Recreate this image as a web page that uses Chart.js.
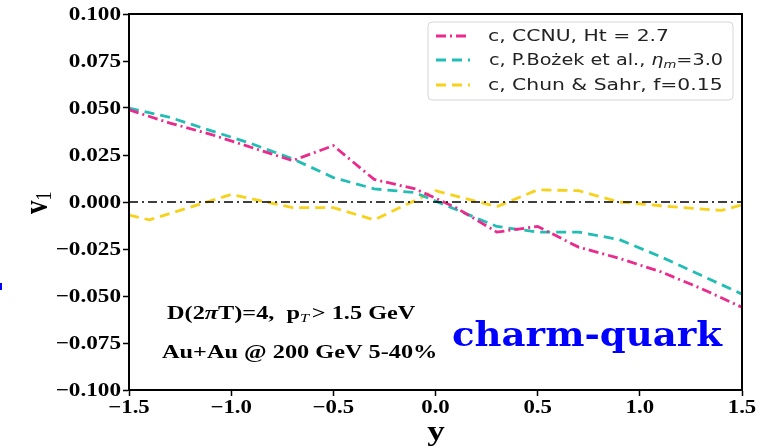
<!DOCTYPE html>
<html>
<head>
<meta charset="utf-8">
<script src="https://cdn.jsdelivr.net/npm/chart.js@4.4.1/dist/chart.umd.min.js"></script>
<style>
  html, body { margin: 0; padding: 0; background: #ffffff; }
  #wrap { width: 763px; height: 448px; position: relative; }
</style>
</head>
<body>
<div id="wrap"><canvas id="c" width="763" height="448"></canvas></div>
<script>
// Rapidity grid shared by the CCNU and Bozek curves
const rapidity = [-1.5, -1.3, -1.1, -0.9, -0.7, -0.5, -0.3, -0.1, 0.1, 0.3, 0.5, 0.7, 0.9, 1.1, 1.3, 1.5];
// v1 of charm quarks, CCNU model (Ht = 2.7)
const v1CCNU = [0.049, 0.042, 0.036, 0.029, 0.022, 0.030, 0.012, 0.007, -0.003, -0.016, -0.013, -0.024, -0.030, -0.037, -0.046, -0.056];
// v1 of charm quarks, P. Bozek et al. (eta_m = 3.0)
const v1Bozek = [0.050, 0.045, 0.038, 0.031, 0.023, 0.013, 0.007, 0.005, -0.004, -0.013, -0.016, -0.016, -0.020, -0.029, -0.039, -0.049];
// Chun & Sahr curve has its own rapidity points
const rapidityChun = [-1.5, -1.4, -1.0, -0.7, -0.5, -0.3, 0.0, 0.3, 0.5, 0.7, 0.9, 1.1, 1.4, 1.5];
const v1Chun = [-0.007, -0.0095, 0.004, -0.003, -0.003, -0.0095, 0.006, -0.0025, 0.0065, 0.006, 0.0, -0.002, -0.0045, -0.0015];
// Axis ticks
const yTicks = [-0.100, -0.075, -0.050, -0.025, 0.000, 0.025, 0.050, 0.075, 0.100];
const xTicks = [-1.5, -1.0, -0.5, 0.0, 0.5, 1.0, 1.5];

const pink = '#ea2a8c', teal = '#22bdb5', gold = '#f6d21a';
const dashDot = [10, 4, 2, 4];
const dashed = [10, 6];

const pts = (xs, ys) => xs.map((x, i) => ({ x: x, y: ys[i] }));
const minus = s => s.replace('-', '\u2212');

const serif = '"Liberation Serif", "DejaVu Serif", serif';
const sansFam = '"DejaVu Sans", sans-serif';

// Draw a run of text pieces [text, font, dy, gap] widened by factor sx, anchored at (x, y)
function drawRun(ctx, pieces, x, y, sx, align) {
  let total = 0;
  pieces.forEach(p => { ctx.font = p[1]; total += ctx.measureText(p[0]).width + (p[3] || 0); });
  ctx.save();
  ctx.translate(x, y);
  ctx.scale(sx, 1);
  let cx = 0;
  if (align === 'right') cx = -total;
  else if (align === 'center') cx = -total / 2;
  ctx.textAlign = 'left';
  pieces.forEach(p => {
    ctx.font = p[1];
    ctx.fillText(p[0], cx, p[2] || 0);
    cx += ctx.measureText(p[0]).width + (p[3] || 0);
  });
  ctx.restore();
}

const overlay = {
  id: 'overlay',
  afterDraw(chart) {
    const ctx = chart.ctx;
    const a = chart.chartArea;
    const xs = chart.scales.x, ys = chart.scales.y;
    ctx.save();
    // plot frame
    ctx.strokeStyle = '#000';
    ctx.lineWidth = 2;
    ctx.setLineDash([]);
    ctx.strokeRect(a.left, a.top, a.right - a.left, a.bottom - a.top);

    // tick labels
    ctx.fillStyle = '#000';
    ctx.textBaseline = 'middle';
    const tickFont = 'bold 19px ' + serif;
    yTicks.forEach(v => {
      drawRun(ctx, [[minus(v.toFixed(3)), tickFont]], 121, ys.getPixelForValue(v) + 1, 1.22, 'right');
    });
    xTicks.forEach(v => {
      drawRun(ctx, [[minus(v.toFixed(1)), tickFont]], xs.getPixelForValue(v), 408, 1.2, 'center');
    });

    // legend box
    const lx = 428, ly = 22, lw = 305, lh = 78;
    ctx.fillStyle = 'rgba(255,255,255,0.9)';
    ctx.strokeStyle = '#d6d6d6';
    ctx.lineWidth = 1;
    ctx.beginPath();
    ctx.roundRect(lx, ly, lw, lh, 4);
    ctx.fill();
    ctx.stroke();
    const entries = [
      { color: pink, dash: dashDot, y: 36 },
      { color: teal, dash: dashed, y: 60 },
      { color: gold, dash: dashed, y: 85 }
    ];
    entries.forEach(e => {
      ctx.strokeStyle = e.color;
      ctx.lineWidth = 2.8;
      ctx.setLineDash(e.dash);
      ctx.beginPath();
      ctx.moveTo(436, e.y);
      ctx.lineTo(470, e.y);
      ctx.stroke();
    });
    ctx.setLineDash([]);
    ctx.fillStyle = '#222';
    ctx.textBaseline = 'middle';
    const sans = '16px ' + sansFam;
    const sx = 1.27;
    drawRun(ctx, [['c, CCNU, Ht = 2.7', sans]], 488, 37, sx);
    drawRun(ctx, [
      ['c, P.Bo\u017cek et al., ', sans],
      ['\u03b7', 'italic 16px ' + sansFam],
      ['m', 'italic 11px ' + sansFam, 4],
      ['=3.0', sans]
    ], 489, 61, 1.2);
    drawRun(ctx, [['c, Chun & Sahr, f=0.15', sans]], 488, 86, sx);

    // annotation text
    ctx.fillStyle = '#000';
    ctx.textBaseline = 'alphabetic';
    const b18 = 'bold 18px ' + serif;
    drawRun(ctx, [
      ['D(2', b18],
      ['\u03c0', 'bold italic 18px ' + serif],
      ['T)=4,  p', b18],
      ['T', 'italic 12px ' + serif, 3, 2],
      ['> 1.5 GeV', b18]
    ], 167, 319, 1.35);
    drawRun(ctx, [['Au+Au @ 200 GeV 5-40%', b18]], 162, 358, 1.35);

    // big label
    ctx.fillStyle = '#0000ff';
    ctx.font = 'bold 33px "DejaVu Serif", serif';
    const big = 'charm-quark';
    const bw = ctx.measureText(big).width;
    ctx.save();
    ctx.translate(452, 346);
    ctx.scale(270 / bw, 1);
    ctx.textAlign = 'left';
    ctx.fillText(big, 0, 0);
    ctx.restore();
    // blue fragment at the left edge
    ctx.fillRect(0, 283, 2, 7);

    // axis titles
    ctx.fillStyle = '#000';
    drawRun(ctx, [['y', 'bold 27px ' + serif]], 436, 440, 1.3, 'center');
    ctx.save();
    ctx.translate(47, 214);
    ctx.rotate(-Math.PI / 2);
    ctx.scale(1, 1.25);
    ctx.textAlign = 'left';
    ctx.font = 'bold 27px ' + serif;
    ctx.fillText('v', 0, 0);
    const vw = ctx.measureText('v').width;
    ctx.font = '18px ' + serif;
    ctx.fillText('1', vw, 3);
    ctx.restore();
    ctx.restore();
  }
};

new Chart(document.getElementById('c'), {
  type: 'line',
  data: {
    datasets: [
      { data: pts([-1.5, 1.5], [0, 0]), borderColor: '#000', borderWidth: 1.6, borderDash: [9, 4, 2, 4], pointRadius: 0 },
      { label: 'c, CCNU, Ht = 2.7', data: pts(rapidity, v1CCNU), borderColor: pink, borderWidth: 2.8, borderDash: dashDot, pointRadius: 0, tension: 0 },
      { label: 'c, P.Bozek et al.', data: pts(rapidity, v1Bozek), borderColor: teal, borderWidth: 2.8, borderDash: dashed, pointRadius: 0, tension: 0 },
      { label: 'c, Chun & Sahr, f=0.15', data: pts(rapidityChun, v1Chun), borderColor: gold, borderWidth: 2.8, borderDash: dashed, pointRadius: 0, tension: 0 }
    ]
  },
  options: {
    responsive: false,
    animation: false,
    layout: { padding: { top: 14, right: 21, left: 0, bottom: 0 } },
    plugins: { legend: { display: false }, tooltip: { enabled: false } },
    scales: {
      x: {
        type: 'linear', min: -1.5, max: 1.5,
        afterFit(s) { s.height = 58; },
        afterBuildTicks(s) { s.ticks = xTicks.map(v => ({ value: v })); },
        border: { color: '#000', width: 2 },
        grid: { drawOnChartArea: false, color: '#000', tickLength: 6, tickWidth: 1.5 },
        ticks: { color: 'rgba(0,0,0,0)', padding: 1, maxRotation: 0, font: { family: serif, size: 17, weight: 'bold' },
                 callback: v => minus(Number(v).toFixed(1)) }
      },
      y: {
        type: 'linear', min: -0.1, max: 0.1,
        afterFit(s) { s.width = 129; },
        afterBuildTicks(s) { s.ticks = yTicks.map(v => ({ value: v })); },
        border: { color: '#000', width: 2 },
        grid: { drawOnChartArea: false, color: '#000', tickLength: 6, tickWidth: 1.5 },
        ticks: { color: 'rgba(0,0,0,0)', padding: 3, font: { family: serif, size: 17, weight: 'bold' },
                 callback: v => minus(Number(v).toFixed(3)) }
      }
    }
  },
  plugins: [overlay]
});
</script>
</body>
</html>
